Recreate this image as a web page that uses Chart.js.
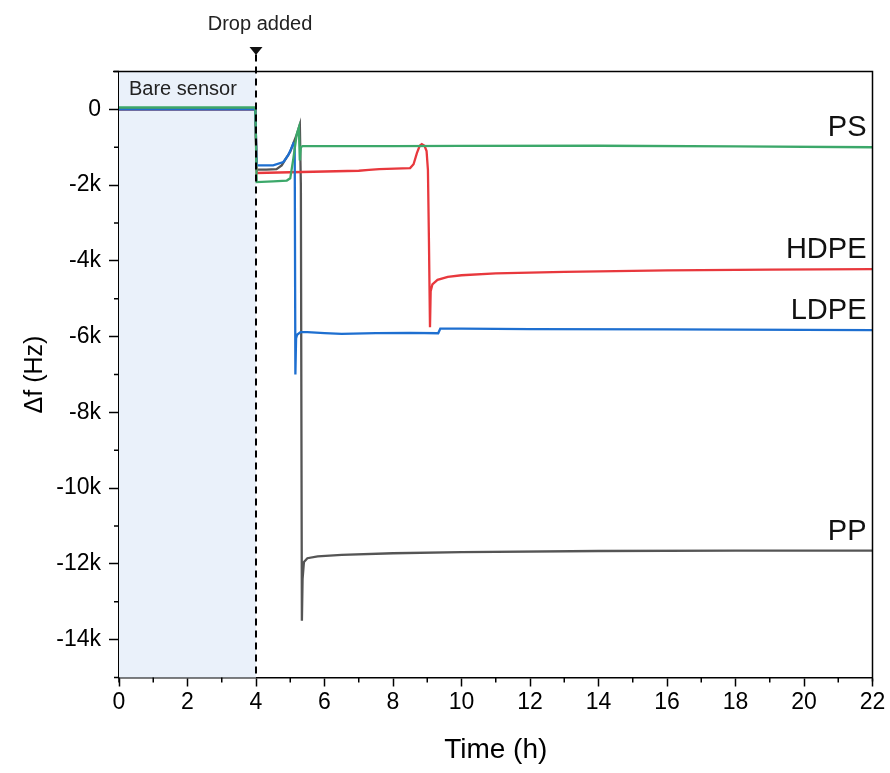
<!DOCTYPE html>
<html><head><meta charset="utf-8">
<script src="https://cdn.jsdelivr.net/npm/chart.js@4/dist/chart.umd.min.js"></script>
<style>html,body{margin:0;padding:0;background:#fff}#wrap{width:890px;height:773px}</style>
</head><body><div id="wrap"><canvas id="c" width="890" height="773"></canvas></div>
<script>
// ---- tick definitions ----
const xTicks = [0, 2, 4, 6, 8, 10, 12, 14, 16, 18, 20, 22];
const xTickLabels = ['0', '2', '4', '6', '8', '10', '12', '14', '16', '18', '20', '22'];
const xMinorTicks = [1, 3, 5, 7, 9, 11, 13, 15, 17, 19, 21];
const yTicks = [0, -2000, -4000, -6000, -8000, -10000, -12000, -14000];
const yTickLabels = ['0', '-2k', '-4k', '-6k', '-8k', '-10k', '-12k', '-14k'];
const yMinorTicks = [1000, -1000, -3000, -5000, -7000, -9000, -11000, -13000, -15000];

// ---- event markers ----
const dropTime = 4;
const bareStart = 0;
const bareEnd = 4;

// ---- series (time in h, Δf in Hz) ----
const ppTime  = [0, 2, 3.98, 4.02, 4.3, 4.6, 4.75, 4.9, 5.0, 5.09, 5.2, 5.28, 5.31, 5.34, 5.36, 5.40, 5.5, 5.8, 6.5, 8, 10, 14, 18, 22];
const ppValue = [0, 0, 0, -1590, -1590, -1580, -1480, -1260, -1120, -900, -640, -400, -2000, -13500, -12400, -11950, -11850, -11800, -11760, -11720, -11690, -11660, -11650, -11650];

const hdpeTime  = [0, 2, 3.98, 4.02, 5, 6, 7, 7.3, 7.6, 8.5, 8.6, 8.7, 8.78, 8.84, 8.92, 8.98, 9.02, 9.05, 9.08, 9.1, 9.15, 9.3, 9.6, 10, 11, 13, 16, 19, 22];
const hdpeValue = [0, 0, 0, -1680, -1660, -1640, -1620, -1600, -1580, -1550, -1450, -1150, -960, -920, -960, -1100, -1600, -3500, -5750, -4800, -4620, -4500, -4420, -4380, -4330, -4290, -4250, -4230, -4220];

const ldpeTime  = [0, 2, 3.98, 4.02, 4.5, 4.8, 4.94, 5.02, 5.09, 5.13, 5.15, 5.17, 5.2, 5.3, 5.5, 6, 6.5, 7.5, 8.5, 9.32, 9.38, 10, 12, 16, 22];
const ldpeValue = [0, 0, 0, -1480, -1480, -1390, -1210, -1050, -900, -950, -7000, -6050, -5950, -5880, -5880, -5910, -5930, -5910, -5900, -5910, -5790, -5790, -5800, -5810, -5830];

const psTime  = [0, 2, 3.98, 4.02, 4.5, 4.9, 5.0, 5.09, 5.19, 5.25, 5.28, 5.31, 5.36, 6, 8, 10, 14, 18, 22];
const psValue = [50, 50, 50, -1920, -1900, -1880, -1820, -1300, -650, -480, -1350, -1000, -970, -970, -970, -965, -960, -975, -1000];

const seriesNames = ['PS', 'HDPE', 'LDPE', 'PP'];
const seriesColors = ['#3ca86a', '#e8383d', '#1e6fd0', '#555555'];

function pts(t, v) { return t.map((x, i) => ({ x: x, y: v[i] })); }

const FONT = '"Liberation Sans", Arial, sans-serif';

const decor = {
  id: 'decor',
  beforeDatasetsDraw(chart) {
    const { ctx, chartArea: a, scales: { x, y } } = chart;
    ctx.save();
    ctx.fillStyle = '#eaf1fa';
    const x0 = x.getPixelForValue(bareStart), x1 = x.getPixelForValue(bareEnd);
    ctx.fillRect(x0, a.top, x1 - x0, a.bottom - a.top);
    ctx.fillStyle = '#222';
    ctx.font = '20px ' + FONT;
    ctx.textBaseline = 'alphabetic';
    ctx.textAlign = 'left';
    ctx.fillText('Bare sensor', x0 + 10, a.top + 23);
    ctx.restore();
  },
  afterDatasetsDraw(chart) {
    const { ctx, chartArea: a, scales: { x, y } } = chart;
    ctx.save();
    // frame top/right
    ctx.strokeStyle = '#000';
    ctx.lineWidth = 1.5;
    ctx.beginPath();
    ctx.moveTo(a.left - 6, a.top); ctx.lineTo(a.right, a.top); ctx.lineTo(a.right, a.bottom + 4);
    ctx.stroke();
    // minor ticks
    ctx.lineWidth = 1.5;
    ctx.beginPath();
    xMinorTicks.forEach(v => { const p = x.getPixelForValue(v); ctx.moveTo(p, a.bottom); ctx.lineTo(p, a.bottom + 5); });
    yMinorTicks.forEach(v => { const p = y.getPixelForValue(v); ctx.moveTo(a.left, p); ctx.lineTo(a.left - 5, p); });
    ctx.moveTo(a.left, a.bottom); ctx.lineTo(a.left, a.bottom + 5);
    ctx.stroke();
    // drop line
    const xd = x.getPixelForValue(dropTime);
    ctx.setLineDash([7, 5]);
    ctx.lineWidth = 2;
    ctx.beginPath();
    ctx.moveTo(xd, a.top - 17); ctx.lineTo(xd, a.bottom);
    ctx.stroke();
    ctx.setLineDash([]);
    ctx.fillStyle = '#111';
    ctx.beginPath();
    ctx.moveTo(xd - 6.5, a.top - 24.5); ctx.lineTo(xd + 6.5, a.top - 24.5); ctx.lineTo(xd, a.top - 16.5);
    ctx.closePath(); ctx.fill();
    ctx.font = '20px ' + FONT;
    ctx.textAlign = 'center';
    ctx.textBaseline = 'alphabetic';
    ctx.fillStyle = '#222';
    ctx.fillText('Drop added', xd + 4, a.top - 42);
    // series labels
    ctx.font = '29px ' + FONT;
    ctx.textAlign = 'right';
    ctx.fillStyle = '#111';
    const ends = [psValue, hdpeValue, ldpeValue, ppValue];
    seriesNames.forEach((n, i) => {
      const arr = ends[i];
      const py = y.getPixelForValue(arr[arr.length - 1]);
      ctx.fillText(n, a.right - 6, py - 11);
    });
    ctx.restore();
  }
};

new Chart(document.getElementById('c'), {
  type: 'line',
  data: {
    datasets: [
      { label: 'PP', data: pts(ppTime, ppValue), borderColor: seriesColors[3], order: 4 },
      { label: 'HDPE', data: pts(hdpeTime, hdpeValue), borderColor: seriesColors[1], order: 3 },
      { label: 'LDPE', data: pts(ldpeTime, ldpeValue), borderColor: seriesColors[2], order: 2 },
      { label: 'PS', data: pts(psTime, psValue), borderColor: seriesColors[0], order: 1 }
    ].map(d => Object.assign(d, { borderWidth: 2.3, pointRadius: 0, tension: 0, fill: false }))
  },
  options: {
    responsive: false,
    devicePixelRatio: 1,
    animation: false,
    layout: { padding: { left: 0, right: 17.5, top: 71.5, bottom: 0 } },
    plugins: { legend: { display: false }, tooltip: { enabled: false } },
    scales: {
      x: {
        type: 'linear', min: 0, max: 22,
        afterBuildTicks: s => { s.ticks = xTicks.map(v => ({ value: v })); },
        afterFit: s => { s.height = 95.5; },
        ticks: { autoSkip: false, maxRotation: 0, padding: 2, color: '#000', font: { family: FONT, size: 23 },
          callback: v => xTickLabels[xTicks.indexOf(v)] },
        grid: { drawOnChartArea: false, drawTicks: true, tickLength: 9, tickWidth: 1.5, tickColor: '#000' },
        border: { display: true, color: '#000', width: 1.5 },
        title: { display: true, text: 'Time (h)', color: '#000', font: { family: FONT, size: 28 }, padding: { top: 4, bottom: 6 } }
      },
      y: {
        type: 'linear', min: -15000, max: 1000,
        afterBuildTicks: s => { s.ticks = yTicks.map(v => ({ value: v })); },
        afterFit: s => { s.width = 119; },
        ticks: { autoSkip: false, padding: 8, color: '#000', font: { family: FONT, size: 23 },
          callback: v => yTickLabels[yTicks.indexOf(v)] },
        grid: { drawOnChartArea: false, drawTicks: true, tickLength: 10, tickWidth: 1.5, tickColor: '#000' },
        border: { display: true, color: '#000', width: 1.5 },
        title: { display: true, text: 'Δf (Hz)', color: '#000', font: { family: FONT, size: 25 }, padding: { top: 20, bottom: 0 } }
      }
    }
  },
  plugins: [decor]
});
</script>
</body></html>
